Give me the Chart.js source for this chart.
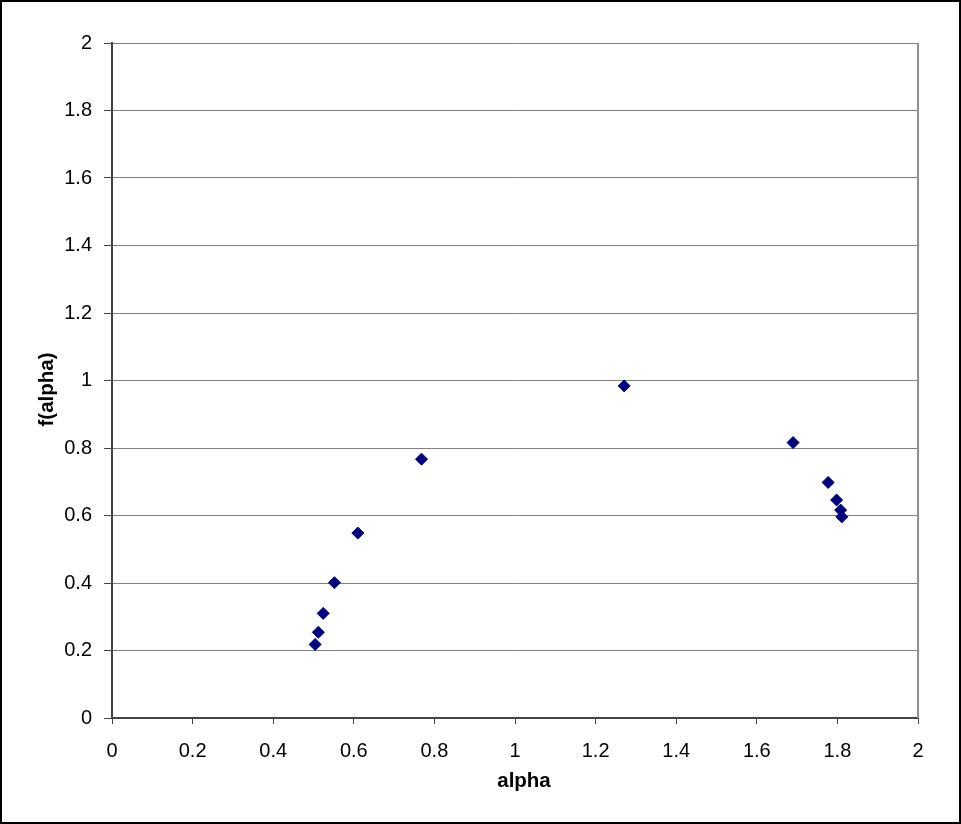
<!DOCTYPE html>
<html><head><meta charset="utf-8">
<script src="https://cdn.jsdelivr.net/npm/chart.js@4/dist/chart.umd.min.js"></script>
<style>html,body{margin:0;padding:0;background:#fff}#wrap{width:961px;height:824px}</style>
</head><body><div id="wrap"><canvas id="c" width="961" height="824"></canvas></div>
<script>
const alphaValues = [0.504, 0.512, 0.524, 0.552, 0.610, 0.768, 1.271, 1.690, 1.777, 1.798, 1.808, 1.811];
const fAlphaValues = [0.218, 0.254, 0.310, 0.401, 0.548, 0.767, 0.984, 0.816, 0.698, 0.646, 0.616, 0.596];
const xTitle = 'alpha';
const yTitle = 'f(alpha)';

const points = alphaValues.map((x, i) => ({x: x, y: fAlphaValues[i]}));
const FONT = 'Arial, "Liberation Sans", sans-serif';

const framePlugin = {
  id: 'frame',
  beforeDraw(chart) {
    const ctx = chart.ctx;
    ctx.save();
    ctx.fillStyle = '#fff';
    ctx.fillRect(0, 0, chart.width, chart.height);
    ctx.restore();
  },
  afterDraw(chart) {
    const ctx = chart.ctx, a = chart.chartArea;
    ctx.save();
    ctx.strokeStyle = '#909090';
    ctx.lineWidth = 2;
    ctx.beginPath();
    ctx.moveTo(a.right, a.top);
    ctx.lineTo(a.right, a.bottom);
    ctx.stroke();
    // axis titles
    ctx.fillStyle = '#000';
    ctx.font = 'bold 20.5px ' + FONT;
    ctx.textAlign = 'center';
    ctx.textBaseline = 'alphabetic';
    ctx.fillText(xTitle, 524, 787);
    ctx.translate(53, 389.5);
    ctx.rotate(-Math.PI / 2);
    ctx.fillText(yTitle, 0, 0);
    ctx.setTransform(1, 0, 0, 1, 0, 0);
    ctx.strokeStyle = '#000';
    ctx.lineWidth = 2;
    ctx.strokeRect(1, 1, chart.width - 2, chart.height - 2);
    ctx.restore();
  }
};

new Chart(document.getElementById('c'), {
  type: 'scatter',
  data: { datasets: [{
    data: points,
    pointStyle: 'rectRot',
    pointRadius: 6,
    pointHoverRadius: 6,
    backgroundColor: '#000080',
    borderColor: '#000080',
    borderWidth: 1
  }]},
  options: {
    responsive: false,
    animation: false,
    devicePixelRatio: 1,
    layout: { padding: { top: 43, right: 43, left: 0, bottom: 0 } },
    plugins: { legend: { display: false }, tooltip: { enabled: false } },
    scales: {
      x: {
        type: 'linear', min: 0, max: 2,
        afterFit(s) { s.height = 106; },
        ticks: { stepSize: 0.2, color: '#000', font: { family: FONT, size: 20 }, padding: 15, maxRotation: 0,
          callback: v => +v.toFixed(1) + '' },
        grid: { display: true, drawOnChartArea: false, drawTicks: true, tickLength: 6, color: '#444' },
        border: { display: true, color: '#444', width: 2 },
        title: { display: false }
      },
      y: {
        type: 'linear', min: 0, max: 2,
        afterFit(s) { s.width = 112; },
        ticks: { stepSize: 0.2, color: '#000', font: { family: FONT, size: 20 }, padding: 12,
          callback: v => +v.toFixed(1) + '' },
        grid: { display: true, drawOnChartArea: true, drawTicks: true, tickLength: 8, color: '#808080', tickColor: '#444' },
        border: { display: true, color: '#444', width: 2 },
        title: { display: false }
      }
    }
  },
  plugins: [framePlugin]
});
</script></body></html>
